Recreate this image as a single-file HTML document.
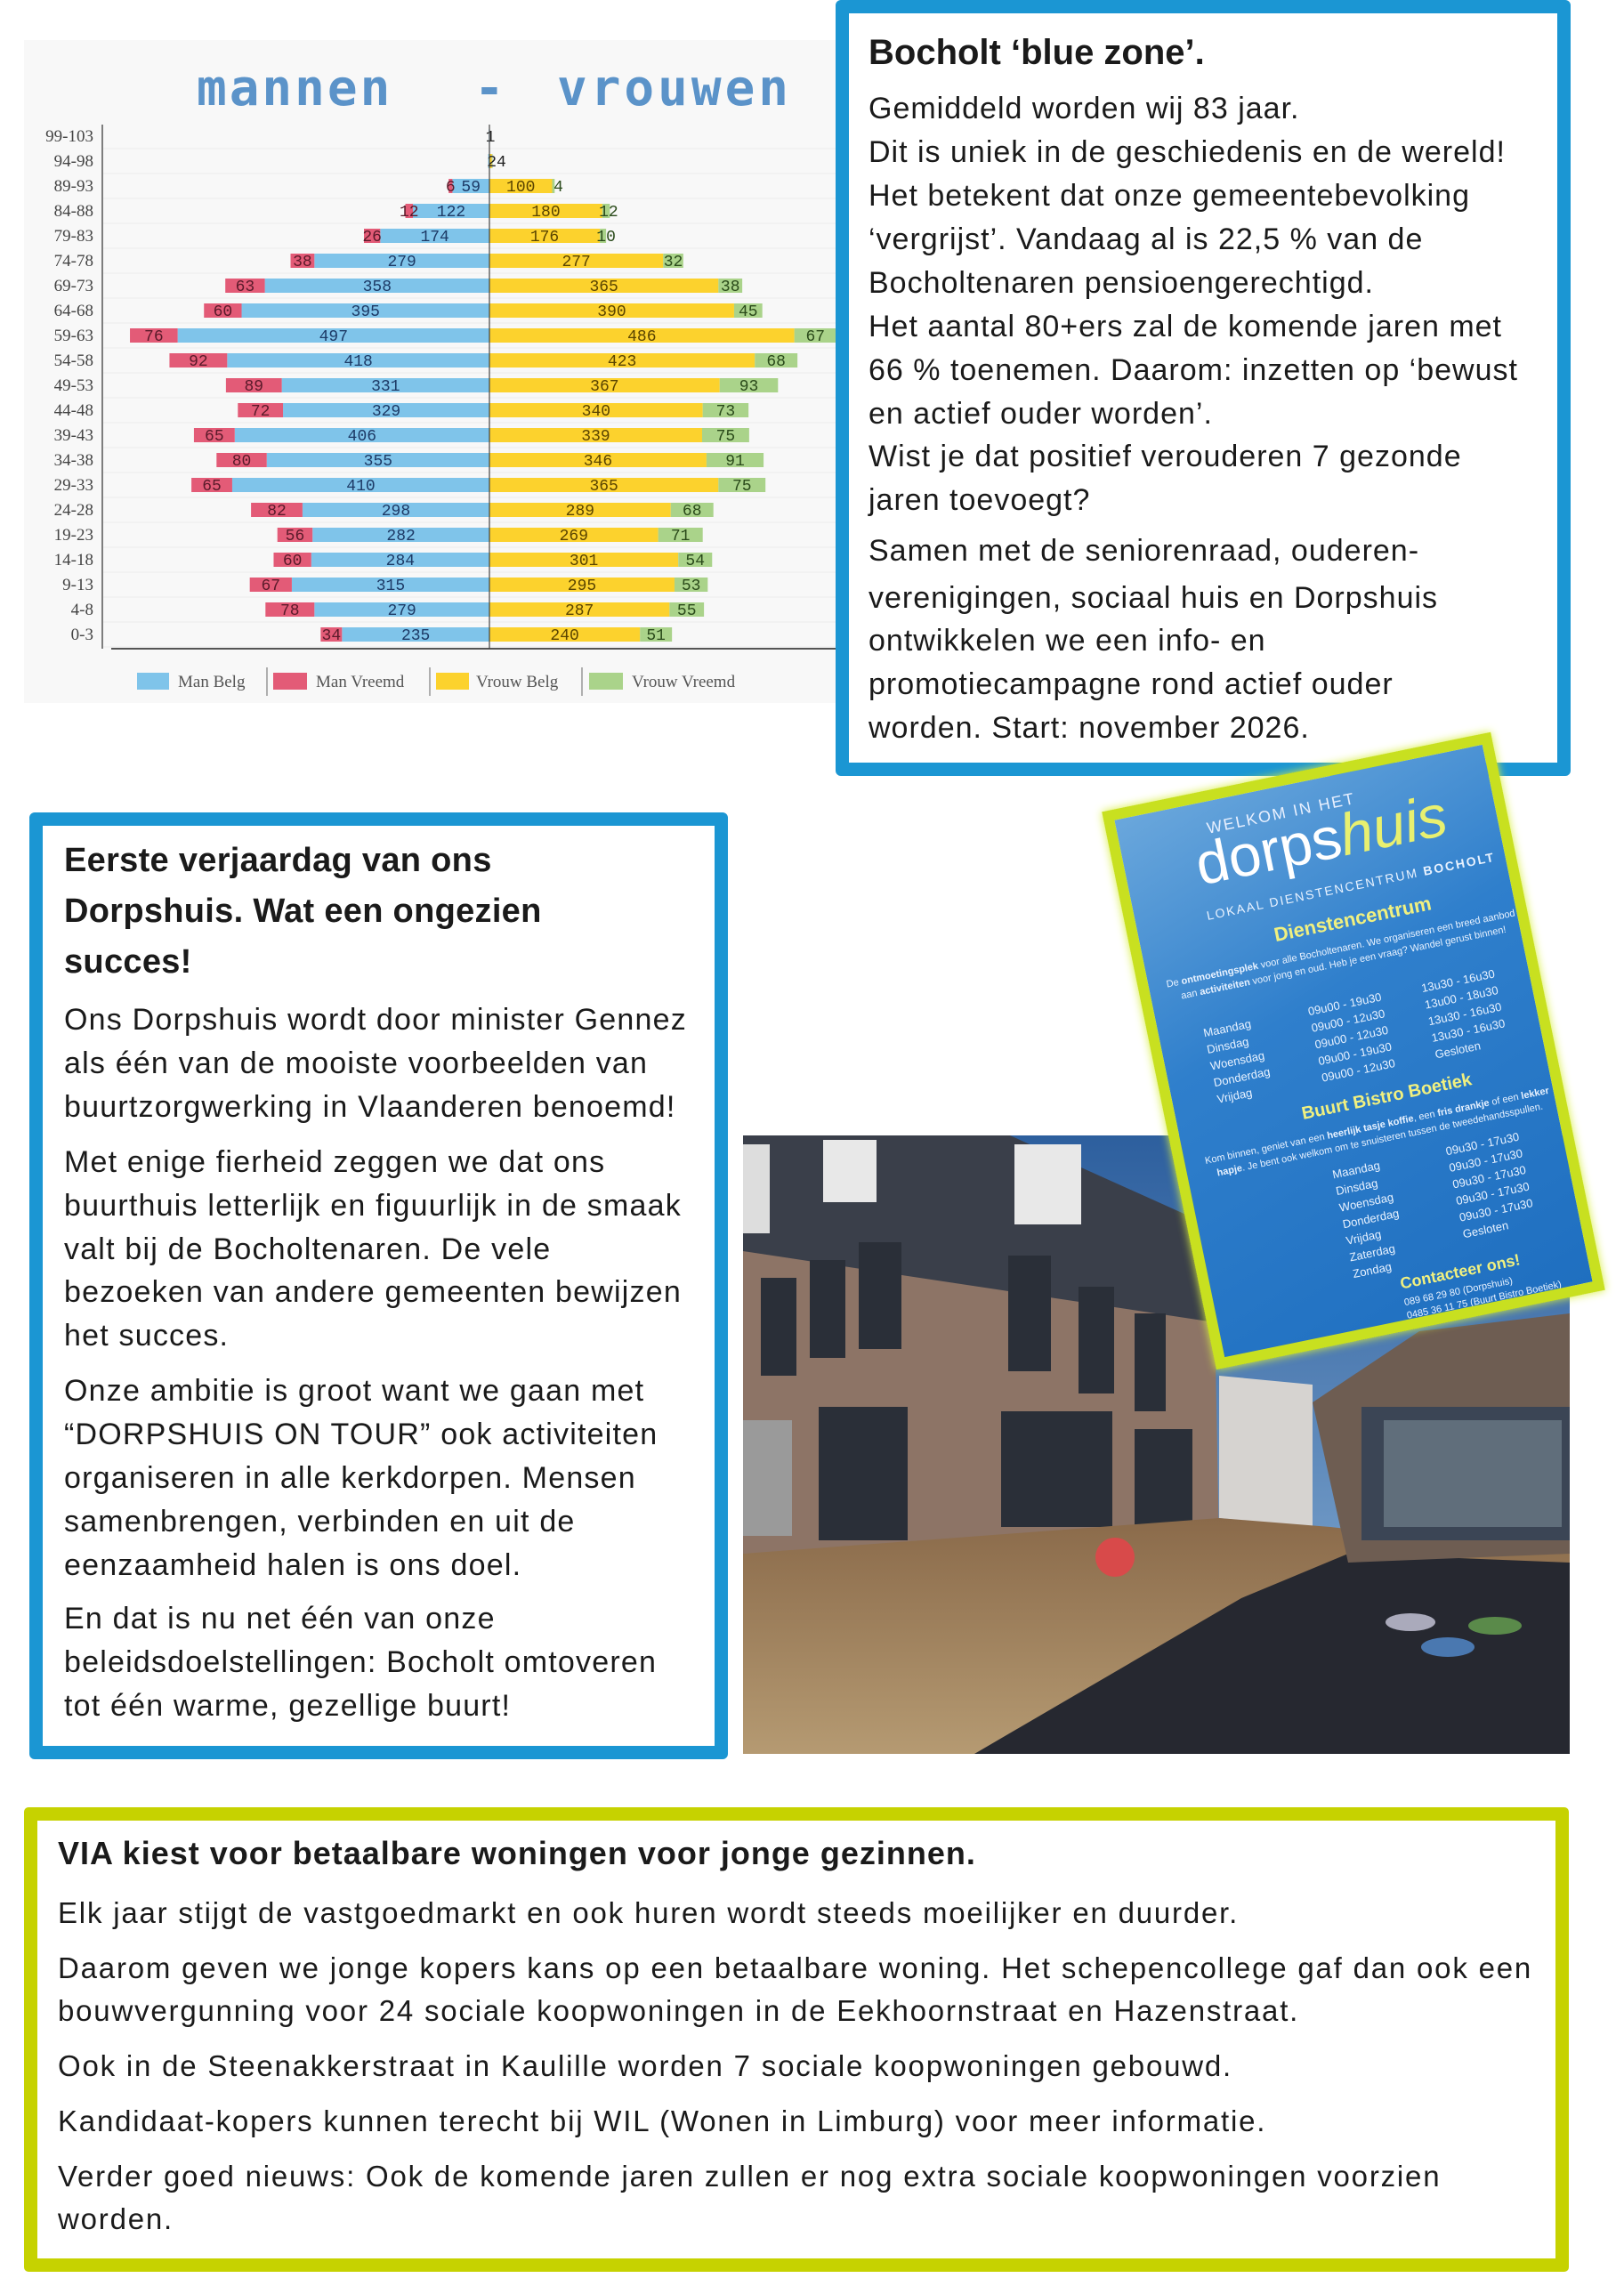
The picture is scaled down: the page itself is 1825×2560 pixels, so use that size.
<!DOCTYPE html>
<html><head><meta charset="utf-8">
<style>
body{margin:0;width:1825px;height:2560px;position:relative;background:#fff;overflow:hidden;font-family:"Liberation Sans",sans-serif;color:#1a1a1a}
.box{position:absolute;box-sizing:border-box}
.l{position:absolute;white-space:nowrap;height:40px;line-height:40px}
.b1 .l{font-size:34px;left:976px;letter-spacing:1px}
.b2 .l{font-size:34px;left:72px;letter-spacing:1.2px}
.b3 .l{font-size:33px;left:65px;letter-spacing:1.8px}
</style></head><body>

<!-- Chart -->
<svg style="position:absolute;left:0;top:0" width="940" height="800" xmlns="http://www.w3.org/2000/svg">
<rect x="27" y="45" width="913" height="745" fill="#f8f8f8"/>
<text x="221" y="118" font-family="DejaVu Sans Mono, Liberation Mono, monospace" font-weight="bold" font-size="56" fill="#5b93c9" letter-spacing="3">mannen</text>
<text x="533" y="118" font-family="DejaVu Sans Mono, monospace" font-weight="bold" font-size="56" fill="#5b93c9">-</text>
<text x="626" y="118" font-family="DejaVu Sans Mono, monospace" font-weight="bold" font-size="56" fill="#5b93c9" letter-spacing="4">vrouwen</text>
<g id="rows" font-family="Liberation Mono, monospace" font-size="18"></g>
<line x1="115" y1="140" x2="115" y2="729" stroke="#555" stroke-width="1.5"/>
<line x1="125" y1="729" x2="940" y2="729" stroke="#555" stroke-width="2"/>
<line x1="550" y1="140" x2="550" y2="729" stroke="#444" stroke-width="1.2"/>
<g font-family="Liberation Serif, serif" font-size="19" fill="#555">
<rect x="154" y="756" width="36" height="19" fill="#7fc4ea"/><text x="200" y="772">Man Belg</text>
<line x1="300" y1="750" x2="300" y2="782" stroke="#666"/>
<rect x="307" y="756" width="38" height="19" fill="#e35b77"/><text x="355" y="772">Man Vreemd</text>
<line x1="483" y1="750" x2="483" y2="782" stroke="#666"/>
<rect x="490" y="756" width="37" height="19" fill="#fcd22d"/><text x="535" y="772">Vrouw Belg</text>
<line x1="654" y1="750" x2="654" y2="782" stroke="#666"/>
<rect x="662" y="756" width="38" height="19" fill="#aad38a"/><text x="710" y="772">Vrouw Vreemd</text>
</g>
</svg>
<script>
(function(){
var d=[["99-103",0,1,0,0],["94-98",0,2,4,1],["89-93",6,59,100,4],["84-88",12,122,180,12],["79-83",26,174,176,10],["74-78",38,279,277,32],["69-73",63,358,365,38],["64-68",60,395,390,45],["59-63",76,497,486,67],["54-58",92,418,423,68],["49-53",89,331,367,93],["44-48",72,329,340,73],["39-43",65,406,339,75],["34-38",80,355,346,91],["29-33",65,410,365,75],["24-28",82,298,289,68],["19-23",56,282,269,71],["14-18",60,284,301,54],["9-13",67,315,295,53],["4-8",78,279,287,55],["0-3",34,235,240,51]];
var s=0.705,c=550,h='';
d.forEach(function(r,i){
 var y=153+i*28;
 h+='<line x1="116" y1="'+(y+14)+'" x2="940" y2="'+(y+14)+'" stroke="#ececec"/>';
 h+='<text x="105" y="'+(y+6)+'" text-anchor="end" font-family="Liberation Serif, serif" font-size="19" fill="#444">'+r[0]+'</text>';
 var mb=r[2]*s,mv=r[1]*s,vb=r[3]*s,vv=r[4]*s;
 h+='<rect x="'+(c-mb)+'" y="'+(y-8)+'" width="'+mb+'" height="16" fill="#7fc4ea"/>';
 h+='<rect x="'+(c-mb-mv)+'" y="'+(y-8)+'" width="'+mv+'" height="16" fill="#e35b77"/>';
 h+='<rect x="'+c+'" y="'+(y-8)+'" width="'+vb+'" height="16" fill="#fcd22d"/>';
 h+='<rect x="'+(c+vb)+'" y="'+(y-8)+'" width="'+vv+'" height="16" fill="#aad38a"/>';
 if(i>1){
 h+='<text x="'+(c-mb/2)+'" y="'+(y+6)+'" text-anchor="middle" fill="#1d3a66">'+r[2]+'</text>';
 h+='<text x="'+(c-mb-mv/2)+'" y="'+(y+6)+'" text-anchor="middle" fill="#5a1a2a">'+r[1]+'</text>';
 h+='<text x="'+(c+vb/2)+'" y="'+(y+6)+'" text-anchor="middle" fill="#5a4400">'+r[3]+'</text>';
 h+='<text x="'+(c+vb+Math.max(vv,14)/2)+'" y="'+(y+6)+'" text-anchor="middle" fill="#2a4a1a">'+r[4]+'</text>';}
});
h+='<text x="551" y="159" text-anchor="middle" fill="#222">1</text><text x="558" y="187" text-anchor="middle" fill="#222">24</text>';
document.getElementById('rows').innerHTML=h;
})();
</script>

<!-- Box 1 -->
<div class="box" style="left:939px;top:0;width:826px;height:872px;border:15px solid #1b96d3;border-radius:6px"></div>
<div class="b1">
<div class="l" style="top:39px;font-size:40px;font-weight:bold;letter-spacing:0">Bocholt ‘blue zone’.</div>
<div class="l" style="top:102px">Gemiddeld worden wij 83 jaar.</div>
<div class="l" style="top:151px">Dit is uniek in de geschiedenis en de wereld!</div>
<div class="l" style="top:200px">Het betekent dat onze gemeentebevolking</div>
<div class="l" style="top:249px">‘vergrijst’. Vandaag al is 22,5 % van de</div>
<div class="l" style="top:298px">Bocholtenaren pensioengerechtigd.</div>
<div class="l" style="top:347px">Het aantal 80+ers zal de komende jaren met</div>
<div class="l" style="top:396px">66 % toenemen. Daarom: inzetten op ‘bewust</div>
<div class="l" style="top:445px">en actief ouder worden’.</div>
<div class="l" style="top:493px">Wist je dat positief verouderen 7 gezonde</div>
<div class="l" style="top:542px">jaren toevoegt?</div>
<div class="l" style="top:599px">Samen met de seniorenraad, ouderen-</div>
<div class="l" style="top:652px">verenigingen, sociaal huis en Dorpshuis</div>
<div class="l" style="top:700px">ontwikkelen we een info- en</div>
<div class="l" style="top:749px">promotiecampagne rond actief ouder</div>
<div class="l" style="top:798px">worden. Start: november 2026.</div>
</div>

<!-- Box 2 -->
<div class="box" style="left:33px;top:913px;width:785px;height:1064px;border:15px solid #1b96d3;border-radius:6px"></div>
<div class="b2">
<div class="l" style="top:947px;font-size:38px;font-weight:bold;letter-spacing:0.3px">Eerste verjaardag van ons</div>
<div class="l" style="top:1004px;font-size:38px;font-weight:bold;letter-spacing:0.3px">Dorpshuis. Wat een ongezien</div>
<div class="l" style="top:1061px;font-size:38px;font-weight:bold;letter-spacing:0.3px">succes!</div>
<div class="l" style="top:1126px">Ons Dorpshuis wordt door minister Gennez</div>
<div class="l" style="top:1175px">als één van de mooiste voorbeelden van</div>
<div class="l" style="top:1224px">buurtzorgwerking in Vlaanderen benoemd!</div>
<div class="l" style="top:1286px">Met enige fierheid zeggen we dat ons</div>
<div class="l" style="top:1335px">buurthuis letterlijk en figuurlijk in de smaak</div>
<div class="l" style="top:1384px">valt bij de Bocholtenaren. De vele</div>
<div class="l" style="top:1432px">bezoeken van andere gemeenten bewijzen</div>
<div class="l" style="top:1481px">het succes.</div>
<div class="l" style="top:1543px">Onze ambitie is groot want we gaan met</div>
<div class="l" style="top:1592px">“DORPSHUIS ON TOUR” ook activiteiten</div>
<div class="l" style="top:1641px">organiseren in alle kerkdorpen. Mensen</div>
<div class="l" style="top:1690px">samenbrengen, verbinden en uit de</div>
<div class="l" style="top:1739px">eenzaamheid halen is ons doel.</div>
<div class="l" style="top:1799px">En dat is nu net één van onze</div>
<div class="l" style="top:1848px">beleidsdoelstellingen: Bocholt omtoveren</div>
<div class="l" style="top:1897px">tot één warme, gezellige buurt!</div>
</div>

<!-- Photo -->
<svg style="position:absolute;left:835px;top:1276px" width="929" height="695" xmlns="http://www.w3.org/2000/svg">
<defs>
<linearGradient id="sky" x1="0" y1="0" x2="0" y2="1"><stop offset="0" stop-color="#2d5f9e"/><stop offset="1" stop-color="#8fb4d8"/></linearGradient>
<linearGradient id="pave" x1="0" y1="0" x2="0" y2="1"><stop offset="0" stop-color="#8a6a4a"/><stop offset="1" stop-color="#b59a72"/></linearGradient>
</defs>
<rect width="929" height="695" fill="url(#sky)"/>
<polygon points="0,20 300,0 530,200 535,460 0,470" fill="#8d7466"/>
<polygon points="0,0 300,0 500,90 530,210 0,130" fill="#3a3f4a"/>
<rect x="0" y="10" width="30" height="100" fill="#ddd"/>
<rect x="90" y="5" width="60" height="70" fill="#e8e8e8"/>
<rect x="305" y="10" width="75" height="90" fill="#e8e8e8"/>
<g fill="#2a2f38">
<rect x="20" y="160" width="40" height="110"/><rect x="75" y="140" width="40" height="110"/><rect x="130" y="120" width="48" height="120"/>
<rect x="298" y="135" width="48" height="130"/><rect x="377" y="170" width="40" height="120"/><rect x="440" y="200" width="35" height="110"/>
<rect x="85" y="305" width="100" height="150"/><rect x="290" y="310" width="125" height="130"/><rect x="440" y="330" width="65" height="110"/>
</g>
<rect x="0" y="320" width="55" height="130" fill="#9a9a9a"/>
<polygon points="535,270 640,280 640,440 535,430" fill="#d6d3d0"/>
<polygon points="0,470 535,430 660,440 929,470 929,695 0,695" fill="url(#pave)"/>
<polygon points="260,695 560,520 680,470 929,480 929,695" fill="#262830"/>
<polygon points="640,300 760,220 929,200 929,470 680,480" fill="#6e5d52"/>
<rect x="695" y="305" width="234" height="150" fill="#3b4555"/>
<rect x="720" y="320" width="200" height="120" fill="#7a8a95" opacity="0.6"/>
<circle cx="418" cy="474" r="22" fill="#d84a4a"/>
<ellipse cx="750" cy="547" rx="28" ry="10" fill="#aab"/><ellipse cx="792" cy="575" rx="30" ry="11" fill="#4a78b0"/><ellipse cx="845" cy="551" rx="30" ry="10" fill="#5a8a4a"/>
</svg>

<!-- Flyer -->
<div style="position:absolute;left:1298px;top:861px;width:446px;height:640px;transform:rotate(-11.6deg);transform-origin:center;box-sizing:border-box;border:12px solid #c8e020;box-shadow:0 0 10px #d8ee40;background:linear-gradient(160deg,#6aa7dc 0%,#2f7fcc 40%,#1f6fc0 100%);color:#e8f2ff;overflow:hidden">
<div style="position:absolute;left:100px;top:20px;font-size:18px;letter-spacing:2px;color:#e8f0ff">WELKOM IN HET</div>
<div style="position:absolute;left:80px;top:30px;font-size:66px;color:#fff">dorps<span style="color:#e8f070;font-style:italic">huis</span></div>
<div style="position:absolute;left:80px;top:118px;font-size:14px;letter-spacing:2px">LOKAAL DIENSTENCENTRUM <b>BOCHOLT</b></div>
<div style="position:absolute;left:150px;top:150px;font-size:22px;font-weight:bold;color:#f0f080">Dienstencentrum</div>
<div style="position:absolute;left:20px;top:185px;font-size:11px;line-height:16px;width:400px;text-align:center">De <b>ontmoetingsplek</b> voor alle Bocholtenaren. We organiseren een breed aanbod aan <b>activiteiten</b> voor jong en oud. Heb je een vraag? Wandel gerust binnen!</div>
<div style="position:absolute;left:50px;top:245px;font-size:13px;line-height:19px">Maandag<br>Dinsdag<br>Woensdag<br>Donderdag<br>Vrijdag</div>
<div style="position:absolute;left:170px;top:245px;font-size:13px;line-height:19px">09u00 - 19u30<br>09u00 - 12u30<br>09u00 - 12u30<br>09u00 - 19u30<br>09u00 - 12u30</div>
<div style="position:absolute;left:300px;top:245px;font-size:13px;line-height:19px">13u30 - 16u30<br>13u00 - 18u30<br>13u30 - 16u30<br>13u30 - 16u30<br>Gesloten</div>
<div style="position:absolute;left:140px;top:355px;font-size:20px;font-weight:bold;color:#f0f080">Buurt Bistro Boetiek</div>
<div style="position:absolute;left:20px;top:388px;font-size:11px;line-height:16px;width:400px;text-align:center">Kom binnen, geniet van een <b>heerlijk tasje koffie</b>, een <b>fris drankje</b> of een <b>lekker hapje</b>. Je bent ook welkom om te snuisteren tussen de tweedehandsspullen.</div>
<div style="position:absolute;left:160px;top:430px;font-size:13px;line-height:19px">Maandag<br>Dinsdag<br>Woensdag<br>Donderdag<br>Vrijdag<br>Zaterdag<br>Zondag</div>
<div style="position:absolute;left:290px;top:430px;font-size:13px;line-height:19px">09u30 - 17u30<br>09u30 - 17u30<br>09u30 - 17u30<br>09u30 - 17u30<br>09u30 - 17u30<br>Gesloten</div>
<div style="position:absolute;left:210px;top:565px;font-size:18px;font-weight:bold;color:#f0f080">Contacteer ons!</div>
<div style="position:absolute;left:210px;top:590px;font-size:11px;line-height:15px">089 68 29 80 (Dorpshuis)<br>0485 36 11 75 (Buurt Bistro Boetiek)</div>
</div>

<!-- Box 3 -->
<div class="box" style="left:27px;top:2031px;width:1736px;height:522px;border:15px solid #c6d200;border-radius:5px"></div>
<div class="b3">
<div class="l" style="top:2063px;font-size:36px;font-weight:bold;letter-spacing:1px">VIA kiest voor betaalbare woningen voor jonge gezinnen.</div>
<div class="l" style="top:2130px">Elk jaar stijgt de vastgoedmarkt en ook huren wordt steeds moeilijker en duurder.</div>
<div class="l" style="top:2192px">Daarom geven we jonge kopers kans op een betaalbare woning. Het schepencollege gaf dan ook een</div>
<div class="l" style="top:2240px">bouwvergunning voor 24 sociale koopwoningen in de Eekhoornstraat en Hazenstraat.</div>
<div class="l" style="top:2302px">Ook in de Steenakkerstraat in Kaulille worden 7 sociale koopwoningen gebouwd.</div>
<div class="l" style="top:2364px">Kandidaat-kopers kunnen terecht bij WIL (Wonen in Limburg) voor meer informatie.</div>
<div class="l" style="top:2426px">Verder goed nieuws: Ook de komende jaren zullen er nog extra sociale koopwoningen voorzien</div>
<div class="l" style="top:2474px">worden.</div>
</div>
</body></html>
